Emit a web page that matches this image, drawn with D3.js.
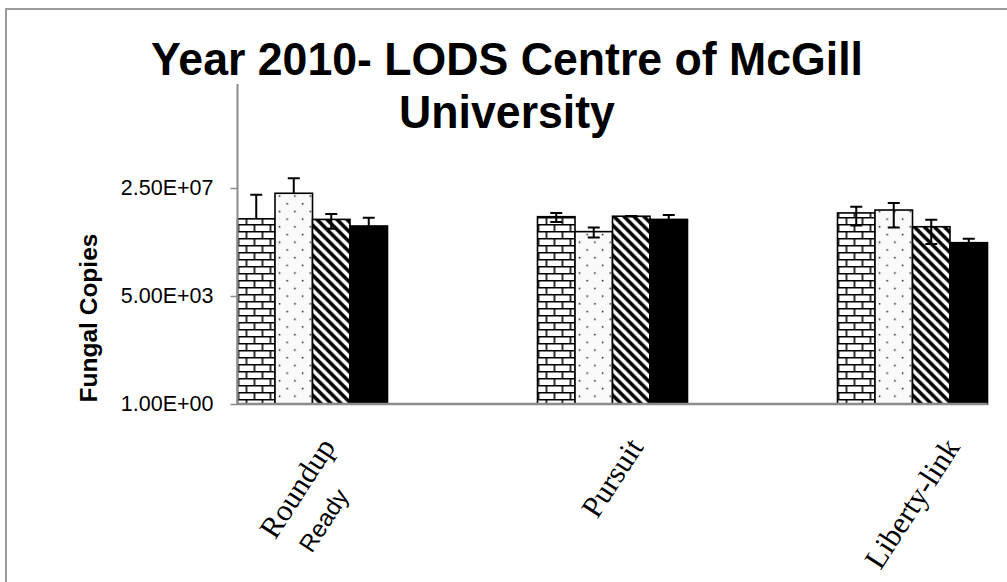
<!DOCTYPE html>
<html>
<head>
<meta charset="utf-8">
<script src="https://cdn.jsdelivr.net/npm/d3@7.9.0/dist/d3.min.js"></script>
<style>
  body { margin: 0; background: #fff; }
  svg { display: block; }
</style>
</head>
<body>
<svg id="chart" width="1007" height="582"></svg>
<script>
// chart data
const categories = ['Roundup Ready', 'Pursuit', 'Liberty-link'];
const seriesKeys = ['brick', 'dots', 'diagonal', 'solid'];

const brickValues = [2.2e6, 2.6e6, 3.5e6];
const brickErrors = [1.26e7, 9.0e5, 2.2e6];
const dotsValues = [1.65e7, 8.0e5, 4.4e6];
const dotsErrors = [3.7e7, 3.0e5, 3.3e6];
const diagonalValues = [2.1e6, 2.7e6, 1.18e6];
const diagonalErrors = [1.1e6, 6.0e4, 8.8e5];
const solidValues = [1.25e6, 2.1e6, 3.35e5];
const solidErrors = [1.15e6, 9.0e5, 1.25e5];

const yTicks = [1, 5000, 2.5e7];

const seriesValues = { brick: brickValues, dots: dotsValues, diagonal: diagonalValues, solid: solidValues };
const seriesErrors = { brick: brickErrors, dots: dotsErrors, diagonal: diagonalErrors, solid: solidErrors };

const svg = d3.select('#chart');
const plotTop = 84, plotBottom = 404, plotLeft = 237.5, plotRight = 987.5;
const axisGray = '#8c8c8c';

// outer frame (only top and left edges visible)
svg.append('path')
  .attr('d', 'M6,582 V9 H1007')
  .attr('fill', 'none')
  .attr('stroke', '#9a9a9a')
  .attr('stroke-width', 2);

// fill patterns
const defs = svg.append('defs');

const brick = defs.append('pattern')
  .attr('id', 'pat-brick')
  .attr('patternUnits', 'userSpaceOnUse')
  .attr('width', 16).attr('height', 14);
brick.append('rect').attr('width', 16).attr('height', 14).attr('fill', '#fff');
brick.append('path')
  .attr('d', 'M0,0.75 H16 M0,7.75 H16 M1,0 V7 M9,7 V14')
  .attr('stroke', '#000').attr('stroke-width', 1.6);

const dots = defs.append('pattern')
  .attr('id', 'pat-dots')
  .attr('patternUnits', 'userSpaceOnUse')
  .attr('width', 15.4).attr('height', 15.4);
dots.append('rect').attr('width', 15.4).attr('height', 15.4).attr('fill', '#fafafa');
dots.append('circle').attr('cx', 3.5).attr('cy', 3.5).attr('r', 0.9).attr('fill', '#222');
dots.append('circle').attr('cx', 11.2).attr('cy', 11.2).attr('r', 0.9).attr('fill', '#222');

const diag = defs.append('pattern')
  .attr('id', 'pat-diagonal')
  .attr('patternUnits', 'userSpaceOnUse')
  .attr('width', 10).attr('height', 10);
diag.append('rect').attr('width', 10).attr('height', 10).attr('fill', '#fff');
diag.append('path')
  .attr('d', 'M-2,-2 L12,12 M-2,8 L2,12 M8,-2 L12,2')
  .attr('stroke', '#000').attr('stroke-width', 3.6);

const fills = { brick: 'url(#pat-brick)', dots: 'url(#pat-dots)', diagonal: 'url(#pat-diagonal)', solid: '#000' };

// scales
const x0 = d3.scaleBand().domain(categories).range([plotLeft, plotRight]).paddingInner(0.5).paddingOuter(0);
const x1 = d3.scaleBand().domain(seriesKeys).range([0, x0.bandwidth()]);
const y = d3.scaleLog().base(5000).domain([1, 2.5e7]).range([plotBottom, 188]);

// bars
const groups = svg.append('g').selectAll('g')
  .data(categories)
  .join('g')
  .attr('transform', (c) => `translate(${x0(c)},0)`);

groups.selectAll('rect')
  .data((c, i) => seriesKeys.map((k) => ({ key: k, value: seriesValues[k][i], err: seriesErrors[k][i] })))
  .join('rect')
  .attr('x', (d) => x1(d.key))
  .attr('y', (d) => y(d.value))
  .attr('width', x1.bandwidth())
  .attr('height', (d) => plotBottom - y(d.value))
  .attr('fill', (d) => fills[d.key])
  .attr('stroke', '#000')
  .attr('stroke-width', 1.6);

// error bars
const capHalf = 6;
groups.selectAll('path.err')
  .data((c, i) => seriesKeys.map((k) => ({ key: k, value: seriesValues[k][i], err: seriesErrors[k][i] })))
  .join('path')
  .attr('class', 'err')
  .attr('fill', 'none')
  .attr('stroke', '#000')
  .attr('stroke-width', 2)
  .attr('d', (d) => {
    const cx = x1(d.key) + x1.bandwidth() / 2;
    const yUp = y(d.value + d.err);
    const lo = d.value - d.err;
    let p = `M${cx - capHalf},${yUp} H${cx + capHalf} M${cx},${yUp}`;
    if (lo > 0) {
      const yLo = Math.min(y(lo), plotBottom);
      p += ` V${yLo} M${cx - capHalf},${yLo} H${cx + capHalf}`;
    } else {
      p += ` V${y(d.value)}`;
    }
    return p;
  });

// y axis
function sciFormat(v) {
  const [m, e] = v.toExponential(2).split('e');
  const n = Math.abs(+e);
  return `${m}E${+e < 0 ? '-' : '+'}${n < 10 ? '0' + n : n}`;
}

const yAxis = svg.append('g')
  .attr('transform', `translate(${plotLeft},0)`)
  .call(d3.axisLeft(y).tickValues(yTicks).tickFormat(sciFormat).tickSizeInner(7).tickSizeOuter(0).tickPadding(17));
yAxis.select('.domain').remove();
yAxis.selectAll('.tick line').attr('stroke', axisGray).attr('stroke-width', 1.5);
yAxis.selectAll('.tick text')
  .attr('font-family', '"Liberation Sans", Arial, sans-serif')
  .attr('font-size', 21.5)
  .attr('fill', '#000');

svg.append('line')
  .attr('x1', plotLeft).attr('x2', plotLeft)
  .attr('y1', plotTop).attr('y2', plotBottom)
  .attr('stroke', axisGray).attr('stroke-width', 2);

svg.append('line')
  .attr('x1', plotLeft).attr('x2', plotRight)
  .attr('y1', plotBottom).attr('y2', plotBottom)
  .attr('stroke', axisGray).attr('stroke-width', 2.5);

// x labels, rotated, bbox centred under each category
const labelAngle = -57;
categories.forEach((c) => {
  const g = svg.append('g');
  const inner = g.append('g').attr('transform', `rotate(${labelAngle})`);
  const parts = c.split(' ');
  inner.append('text')
    .attr('text-anchor', 'end')
    .attr('font-family', '"Liberation Serif", "Times New Roman", serif')
    .attr('font-size', 30.5)
    .text(parts[0]);
  if (parts.length > 1) {
    inner.append('text')
      .attr('x', -34).attr('y', 38)
      .attr('text-anchor', 'end')
      .attr('font-family', '"Liberation Sans", Arial, sans-serif')
      .attr('font-size', 24)
      .text(parts.slice(1).join(' '));
  }
  const b = g.node().getBoundingClientRect();
  const cx = x0(c) + x0.bandwidth() / 2;
  g.attr('transform', `translate(${cx - (b.left + b.width / 2)},${plotBottom + 28 - b.top})`);
});

// axis title
svg.append('text')
  .attr('transform', `translate(97,318) rotate(-90)`)
  .attr('text-anchor', 'middle')
  .attr('font-family', '"Liberation Sans", Arial, sans-serif')
  .attr('font-weight', 'bold')
  .attr('font-size', 24.5)
  .text('Fungal Copies');

// chart title, slightly condensed, as two separate lines
const titleLines = ['Year 2010- LODS Centre of McGill', 'University'];
svg.append('g')
  .attr('transform', 'translate(507,0) scale(0.95,1)')
  .selectAll('text')
  .data(titleLines)
  .join('text')
  .attr('x', 0)
  .attr('y', (d, i) => 75 + i * 53)
  .attr('text-anchor', 'middle')
  .attr('font-family', '"Liberation Sans", Arial, sans-serif')
  .attr('font-weight', 'bold')
  .attr('font-size', 47)
  .text((d) => d);
</script>
</body>
</html>
